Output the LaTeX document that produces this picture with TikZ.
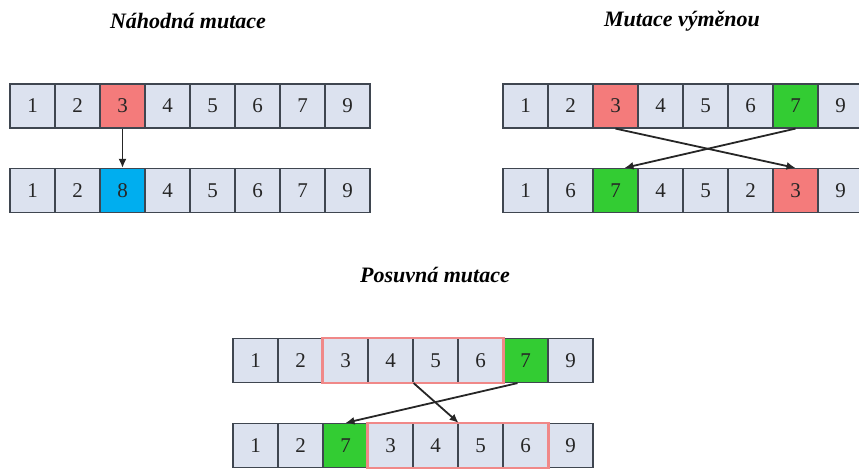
\documentclass[tikz,border=0pt]{standalone}
\usepackage{fontspec}
\setmainfont{Liberation Serif}
\usetikzlibrary{arrows.meta}
\definecolor{cellgray}{HTML}{DCE2EF}
\definecolor{cellred}{HTML}{F47B7B}
\definecolor{cellblue}{HTML}{00AEEF}
\definecolor{cellgreen}{HTML}{33CC33}
\definecolor{framepink}{HTML}{F08888}
\definecolor{cellline}{HTML}{3F4650}
\tikzset{
  gene/.style={draw=cellline, line width=1.2pt, fill=cellgray, minimum width=45pt,
    minimum height=44pt, inner sep=0pt, font=\fontsize{21}{24}\selectfont, text=black!85},
  title/.style={font=\fontsize{22}{26}\selectfont\bfseries\itshape},
  move/.style={-{Latex[length=9pt,width=8pt]}, line width=1.8pt, black!85},
  block/.style={draw=framepink, line width=2.6pt}
}
\begin{document}
\begin{tikzpicture}[x=1pt,y=-1pt]
  \useasboundingbox (0,0) rectangle (859,472);
  \node[title] (t1) at (188,21) {Náhodná mutace};
  \node[title] (t2) at (682,21) {Mutace výměnou};
  \node[title] (t3) at (435,275) {Posuvná mutace};
  % random mutation
  \foreach \v/\c [count=\i] in {1/cellgray,2/cellgray,3/cellred,4/cellgray,5/cellgray,6/cellgray,7/cellgray,9/cellgray}
    \node[gene, fill=\c] (a\i) at (10+\i*45-22.5,106) {\v};
  \foreach \v/\c [count=\i] in {1/cellgray,2/cellgray,8/cellblue,4/cellgray,5/cellgray,6/cellgray,7/cellgray,9/cellgray}
    \node[gene, fill=\c] (b\i) at (10+\i*45-22.5,190.5) {\v};
  \draw[move] (a3.south) -- (b3.north);
  % swap mutation
  \foreach \v/\c [count=\i] in {1/cellgray,2/cellgray,3/cellred,4/cellgray,5/cellgray,6/cellgray,7/cellgreen,9/cellgray}
    \node[gene, fill=\c] (c\i) at (503+\i*45-22.5,106) {\v};
  \foreach \v/\c [count=\i] in {1/cellgray,6/cellgray,7/cellgreen,4/cellgray,5/cellgray,2/cellgray,3/cellred,9/cellgray}
    \node[gene, fill=\c] (d\i) at (503+\i*45-22.5,190.5) {\v};
  \draw[move] (c3.south) -- (d7.north);
  \draw[move] (c7.south) -- ([xshift=9pt]d3.north);
  % shift mutation
  \foreach \v/\c [count=\i] in {1/cellgray,2/cellgray,3/cellgray,4/cellgray,5/cellgray,6/cellgray,7/cellgreen,9/cellgray}
    \node[gene, fill=\c] (e\i) at (233+\i*45-22.5,360.5) {\v};
  \foreach \v/\c [count=\i] in {1/cellgray,2/cellgray,7/cellgreen,3/cellgray,4/cellgray,5/cellgray,6/cellgray,9/cellgray}
    \node[gene, fill=\c] (f\i) at (233+\i*45-22.5,445.5) {\v};
  \draw[block] (e3.north west) rectangle (e6.south east);
  \draw[block] (f4.north west) rectangle (f7.south east);
  \draw[move] (e4.south east) -- (f5.north east);
  \draw[move] ([xshift=-8pt]e7.south) -- (f3.north);
\end{tikzpicture}
\end{document}
